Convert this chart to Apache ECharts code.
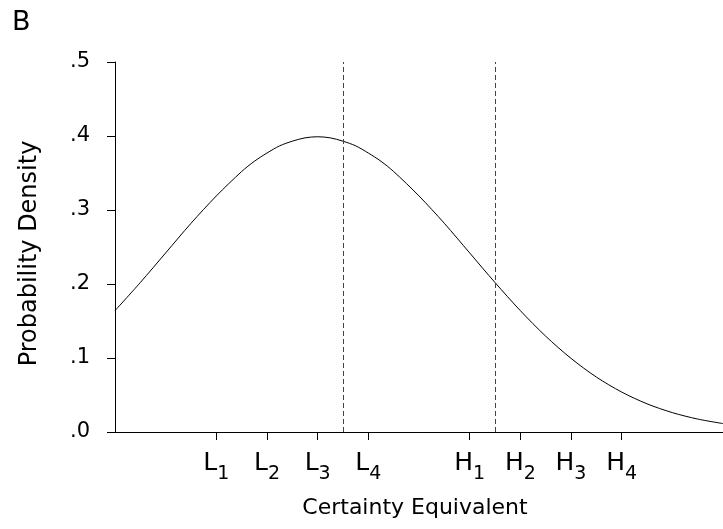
<!DOCTYPE html>
<html>
<head>
<meta charset="utf-8">
<script src="https://cdn.jsdelivr.net/npm/echarts@6/dist/echarts.min.js"></script>
<style>html,body{margin:0;padding:0;background:#fff}#c{width:723px;height:529px}</style>
</head>
<body>
<div id="c"></div>
<script>
// Curve sample points (x in axis units, y = probability density)
var curveX = [-1.3333, -1.1667, -1.0, -0.8333, -0.6667, -0.5, -0.4167, -0.3333, -0.25, -0.1667, -0.0833, 0, 0.0833, 0.1667, 0.25, 0.3333, 0.4167, 0.5, 0.6667, 0.8333, 1.0, 1.1667, 1.3333, 1.5, 1.6667, 1.8333, 2.0, 2.1667, 2.3333, 2.5, 2.6667];
var curveY = [0.164, 0.202, 0.242, 0.282, 0.319, 0.352, 0.3658, 0.377, 0.3867, 0.393, 0.3975, 0.399, 0.3975, 0.393, 0.3867, 0.377, 0.3658, 0.352, 0.319, 0.282, 0.242, 0.202, 0.164, 0.1295, 0.0995, 0.0743, 0.054, 0.0381, 0.0262, 0.0175, 0.0114];
// Tick positions and labels on the x axis
var tickValues = [-0.6667, -0.3333, 0, 0.3333, 1.0, 1.3333, 1.6667, 2.0];
var tickMain = ['L', 'L', 'L', 'L', 'H', 'H', 'H', 'H'];
var tickSub = ['1', '2', '3', '4', '1', '2', '3', '4'];
// Dashed reference lines
var dashedX = [0.1667, 1.1667];
// Y ticks
var yTicks = [0, 0.1, 0.2, 0.3, 0.4, 0.5];
var yTickLabels = ['.0', '.1', '.2', '.3', '.4', '.5'];

var FONT = 'DejaVu Sans';
var chart = echarts.init(document.getElementById('c'), null, {renderer: 'canvas'});
var data = curveX.map(function (x, i) { return [x, curveY[i]]; });

chart.setOption({
  animation: false,
  backgroundColor: '#fff',
  title: {
    text: 'B', left: 7, top: 4,
    textStyle: {fontFamily: FONT, fontSize: 27, fontWeight: 'normal', color: '#000'}
  },
  grid: {left: 115, top: 62, width: 612, height: 370, containLabel: false},
  xAxis: {
    type: 'value', min: -1.3333, max: 2.6667,
    name: 'Certainty Equivalent', nameLocation: 'middle', nameGap: 65,
    nameTextStyle: {fontFamily: FONT, fontSize: 22, color: '#000', padding: [0, 8, 0, 0]},
    axisLine: {show: true, onZero: false, lineStyle: {color: '#000', width: 1}},
    axisTick: {show: true, inside: false, length: 8, customValues: tickValues, lineStyle: {color: '#000'}},
    splitLine: {show: false},
    axisLabel: {
      customValues: tickValues, margin: 18,
      formatter: function (v) {
        var best = 0;
        for (var i = 0; i < tickValues.length; i++) {
          if (Math.abs(tickValues[i] - v) < Math.abs(tickValues[best] - v)) best = i;
        }
        return '{m|' + tickMain[best] + '}{s|' + tickSub[best] + '}';
      },
      rich: {
        m: {fontFamily: FONT, fontSize: 25, lineHeight: 26, color: '#000'},
        s: {fontFamily: FONT, fontSize: 19, height: 4, verticalAlign: 'bottom', color: '#000'}
      }
    }
  },
  yAxis: {
    type: 'value', min: 0, max: 0.5, interval: 0.1,
    name: 'Probability Density', nameLocation: 'middle', nameGap: 73,
    nameTextStyle: {fontFamily: FONT, fontSize: 24, color: '#000', padding: [0, 13, 0, 0]},
    axisLine: {show: true, onZero: false, lineStyle: {color: '#000', width: 1}},
    axisTick: {show: true, inside: false, length: 8, lineStyle: {color: '#000'}},
    splitLine: {show: false},
    axisLabel: {
      margin: 25, fontFamily: FONT, fontSize: 21, color: '#000',
      formatter: function (v) {
        for (var i = 0; i < yTicks.length; i++) {
          if (Math.abs(yTicks[i] - v) < 1e-6) return yTickLabels[i];
        }
        return '';
      }
    }
  },
  series: [{
    type: 'line', data: data, smooth: 0.3, showSymbol: false, silent: true,
    lineStyle: {color: '#000', width: 1},
    markLine: {
      silent: true, symbol: ['none', 'none'], label: {show: false},
      lineStyle: {color: '#444', width: 1, type: [5, 3]},
      data: dashedX.map(function (x) { return {xAxis: x}; })
    }
  }]
});
</script>
</body>
</html>
